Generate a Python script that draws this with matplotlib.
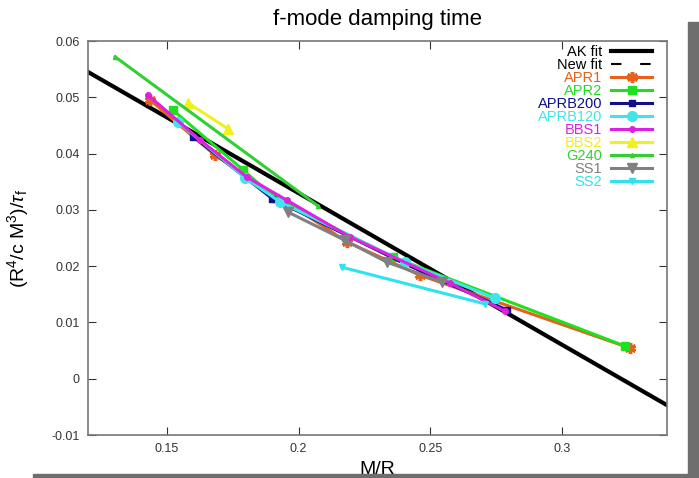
import numpy as np
import matplotlib.pyplot as plt
from matplotlib.patches import Rectangle

plt.rcParams['font.family'] = ['Liberation Sans', 'DejaVu Sans']
plt.rcParams['mathtext.fontset'] = 'custom'
plt.rcParams['mathtext.rm'] = 'Liberation Sans'
plt.rcParams['mathtext.it'] = 'Liberation Sans:italic'

# fits
ak_x = [0.12, 0.34]
ak_y = [0.0545, -0.0047]

# EOS curves (M/R, scaled inverse damping time)
apr1_x = [0.1436, 0.1683, 0.2184, 0.2461, 0.3259]
apr1_y = [0.0495, 0.0397, 0.0243, 0.0184, 0.00545]
apr2_x = [0.1523, 0.1789, 0.1910, 0.2359, 0.3240]
apr2_y = [0.0477, 0.0371, 0.0321, 0.0216, 0.0058]
aprb200_x = [0.1600, 0.1900, 0.2400, 0.2792]
aprb200_y = [0.0430, 0.0320, 0.0205, 0.0122]
aprb120_x = [0.1542, 0.1797, 0.1930, 0.2404, 0.2746]
aprb120_y = [0.0456, 0.0357, 0.0314, 0.0207, 0.0143]
bbs1_x = [0.1428, 0.1626, 0.1804, 0.1956, 0.2195, 0.2575, 0.2784]
bbs1_y = [0.0504, 0.0424, 0.0358, 0.0317, 0.0252, 0.0170, 0.0120]
bbs2_x = [0.1580, 0.1732]
bbs2_y = [0.0490, 0.0444]
g240_x = [0.1303, 0.2074]
g240_y = [0.0572, 0.0307]
ss1_x = [0.1960, 0.2176, 0.2336, 0.2545]
ss1_y = [0.0296, 0.0246, 0.0207, 0.0172]
ss2_x = [0.2165, 0.2708]
ss2_y = [0.0198, 0.0133]

xticks = [0.15, 0.2, 0.25, 0.3]
yticks = [-0.01, 0, 0.01, 0.02, 0.03, 0.04, 0.05, 0.06]

fig = plt.figure(figsize=(6.99, 4.78), dpi=100)
fig.patch.set_facecolor("white")
ax = fig.add_axes([88 / 699, 43 / 478, 579 / 699, 394 / 478])

ax.plot(ak_x, ak_y, color="black", lw=3, label="AK fit")
ax.plot([], [], color="black", lw=1.5, dashes=(5, 9), label="New fit")

series = [
    (apr1_x, apr1_y, "APR1", "#e5611c", dict(marker=(6, 2, 0), ms=8, mew=2.5)),
    (apr2_x, apr2_y, "APR2", "#1ee01e", dict(marker="s", ms=6)),
    (aprb200_x, aprb200_y, "APRB200", "#10108c", dict(marker="s", ms=4)),
    (aprb120_x, aprb120_y, "APRB120", "#3ee6ea", dict(marker="o", ms=7)),
    (bbs1_x, bbs1_y, "BBS1", "#e020e0", dict(marker="o", ms=4)),
    (bbs2_x, bbs2_y, "BBS2", "#f0f020", dict(marker="^", ms=7)),
    (g240_x, g240_y, "G240", "#30d030", dict(marker="^", ms=3)),
    (ss1_x, ss1_y, "SS1", "#808080", dict(marker="v", ms=7)),
    (ss2_x, ss2_y, "SS2", "#30e2f0", dict(marker="v", ms=4)),
]
for x, y, name, c, mk in series:
    ax.plot(x, y, color=c, lw=2.2, label=name, **mk)

ax.set_xlim(0.12, 0.34)
ax.set_ylim(-0.01, 0.06)
ax.set_xticks(xticks)
ax.set_xticklabels(["0.15", "0.2", "0.25", "0.3"])
ax.set_yticks(yticks)
ax.set_yticklabels(["-0.01", "0", "0.01", "0.02", "0.03", "0.04", "0.05", "0.06"])
ax.tick_params(direction="in", length=6, width=0.8, top=True, right=True,
               labelsize=9, pad=6, colors="#333333")
for s in ax.spines.values():
    s.set_color("#777777")
    s.set_linewidth(1.2)

ax.text(0.5, (435 - 20) / 394, "f-mode damping time", transform=ax.transAxes,
        ha="center", va="center", fontsize=16)
ax.set_xlabel("M/R", fontsize=14)
ax.xaxis.set_label_coords(0.5, (435 - 461) / 394)
ax.set_ylabel(r"(R$^4$/c M$^3$)/$\tau_{\rm f}$", fontsize=14)
ax.yaxis.set_label_coords((31 - 88) / 579, 0.5)

leg = ax.legend(loc="upper right", bbox_to_anchor=((652 - 88) / 579, (435 - 45) / 394),
                frameon=False, markerfirst=False, fontsize=10.5, labelspacing=-0.07,
                handlelength=2.8, handletextpad=0.6, borderpad=0, borderaxespad=0)
for t, h in zip(leg.get_texts(), leg.get_lines()):
    t.set_color(h.get_color())

# slide frame
fig.add_artist(Rectangle((688 / 699, 0), 11 / 699, (478 - 22) / 478,
                         transform=fig.transFigure, color="#6e6e6e", zorder=5))
fig.add_artist(Rectangle((33 / 699, 0), 666 / 699, 4 / 478,
                         transform=fig.transFigure, color="#6e6e6e", zorder=5))

fig.savefig("out.png", dpi=100)
